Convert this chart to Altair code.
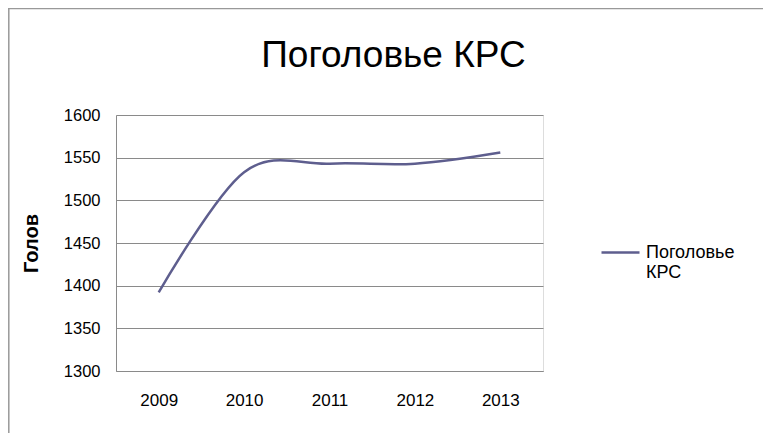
import altair as alt
import pandas as pd

years = ["2009", "2010", "2011", "2012", "2013"]
values = [1392, 1533, 1543, 1543, 1556]
series = ["Поголовье КРС"] * 5
title_text = "Поголовье КРС"

df = pd.DataFrame({"Год": years, "Голов": values, "Ряд": series})

FONT = "Liberation Sans, Arial, sans-serif"
LINE_COLOR = "#5e5e8e"
GRID = "#8a8a8a"

line = alt.Chart(df).mark_line(interpolate="cardinal", strokeWidth=2.5).encode(
    x=alt.X("Год:O", scale=alt.Scale(type="point", padding=0.5),
            axis=alt.Axis(title=None, labelAngle=0, ticks=False, grid=False,
                          domainColor=GRID, labelPadding=21, labelFontSize=17,
                          labelFont=FONT, labelColor="#000")),
    y=alt.Y("Голов:Q", scale=alt.Scale(domain=[1300, 1600], nice=False, zero=False),
            axis=alt.Axis(title="Голов", values=[1300, 1350, 1400, 1450, 1500, 1550, 1600],
                          format="d",
                          ticks=False, grid=True, gridColor=GRID, domainColor=GRID,
                          labelPadding=16, labelFontSize=16.5, labelFont=FONT, labelColor="#000",
                          titleFont=FONT, titleFontSize=20, titleFontWeight="bold",
                          titlePadding=22, titleColor="#000")),
    color=alt.Color("Ряд:N", scale=alt.Scale(range=[LINE_COLOR]),
                    legend=alt.Legend(title=None, orient="none", legendX=484, legendY=117,
                                      symbolType="stroke", symbolSize=1444, symbolStrokeWidth=2.5,
                                      labelFont=FONT, labelFontSize=18, labelColor="#000",
                                      labelOffset=5, padding=0,
                                      labelExpr="split(datum.label, ' ')")),
)

border_df = pd.DataFrame({"k": [0]})
left_border = alt.Chart(border_df).mark_rule(color="#999", strokeWidth=1.5).encode(
    x=alt.value(-107.2), y=alt.value(-107), y2=alt.value(330))
top_border = alt.Chart(border_df).mark_rule(color="#999", strokeWidth=1.5).encode(
    x=alt.value(-108), x2=alt.value(700), y=alt.value(-106.5))
title = alt.Chart(border_df).mark_text(
    font=FONT, fontSize=37, color="#000", align="center", baseline="alphabetic").encode(
    x=alt.value(277.5), y=alt.value(-48), text=alt.value(title_text))

chart = alt.layer(left_border, top_border, title, line).properties(
    width=427, height=256,
    autosize=alt.AutoSizeParams(type="none"),
    padding={"left": 108, "top": 107, "right": 220, "bottom": 62},
).configure_view(stroke=None).configure(background="white")

chart.save("out.html", embed_options={"renderer": "svg", "actions": False})
